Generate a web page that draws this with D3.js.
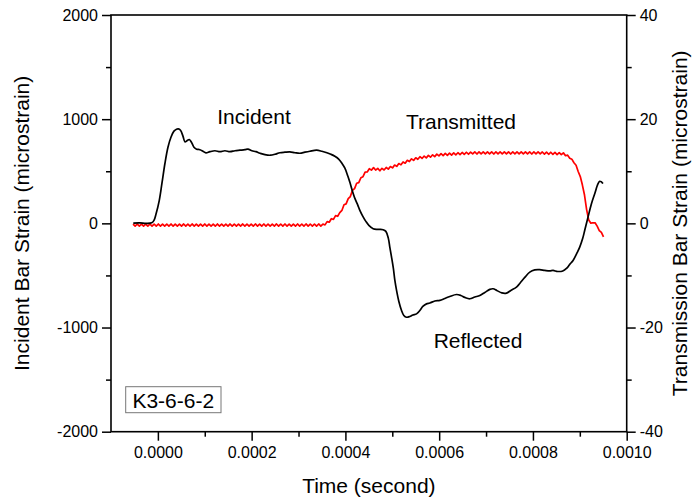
<!DOCTYPE html>
<html>
<head>
<meta charset="utf-8">
<script src="https://cdn.jsdelivr.net/npm/d3@7"></script>
<style>
  body { margin: 0; background: #fff; }
  text { font-family: Arial, "Liberation Sans", sans-serif; fill: #000; }
</style>
</head>
<body>
<svg id="chart" width="692" height="501"></svg>
<script>
// Incident / reflected pulse (incident bar gauge), time in microseconds, strain in microstrain
const incidentTimeUs = [-52.4, -38.2, -25.4, -13.2, -8.3, -4.1, 3.0, 8.7, 15.1, 21.5, 27.9, 34.3, 39.7, 43.5, 48.2, 53.5,
  57.8, 62.0, 66.9, 71.6, 77.0, 82.7, 89.7, 96.1, 102.5, 111.1, 121.7, 132.4, 143.0, 153.7, 164.4, 175.0,
  185.7, 192.1, 200.6, 209.1, 217.7, 228.3, 240.5, 249.6, 260.3, 271.0, 281.6, 292.3, 302.9, 313.6, 324.2,
  338.5, 349.8, 360.5, 369.0, 377.5, 386.1, 392.5, 398.9, 405.3, 409.5, 413.8, 420.2, 426.6, 430.8, 437.2,
  443.6, 450.0, 459.2, 467.1, 473.5, 480.5, 486.3, 491.6, 494.8, 498.4, 502.3, 505.5, 509.1, 514.0, 519.7,
  524.6, 530.4, 537.4, 543.8, 551.7, 558.8, 565.1, 573.0, 580.1, 590.7, 601.4, 612.0, 622.7, 637.0, 646.2,
  654.7, 665.3, 676.0, 686.7, 697.3, 708.0, 715.0, 722.9, 733.6, 743.6, 752.8, 764.9, 771.9, 782.6, 793.3,
  803.9, 814.6, 825.2, 835.9, 842.9, 852.9, 863.6, 871.5, 878.5, 885.6, 893.5, 899.8, 906.2, 910.5, 917.5,
  924.8, 931.8, 938.9, 942.5, 945.7, 949.5];
const incidentStrain = [3, 5, 0, 5, 29, 87, 221, 385, 577, 731, 827, 885, 904, 907, 894, 837,
  782, 793, 805, 779, 731, 712, 707, 692, 676, 688, 697, 688, 697, 688, 697, 702,
  707, 712, 697, 688, 673, 659, 654, 663, 678, 683, 686, 678, 673, 683, 692,
  702, 692, 678, 663, 644, 615, 577, 529, 452, 394, 327, 240, 173, 125, 67,
  19, -19, -51, -58, -58, -61, -77, -144, -231, -324, -433, -548, -644, -750, -836,
  -884, -901, -894, -880, -869, -836, -798, -773, -765, -745, -740, -721, -702, -683, -692,
  -711, -724, -707, -692, -663, -634, -628, -644, -668, -670, -644, -612, -577, -519, -468,
  -447, -445, -452, -457, -452, -462, -457, -433, -394, -356, -288, -228, -144, -67, 60,
  189, 285, 381, 404, 399, 382];

// Transmitted pulse (transmission bar gauge), sampled every 4.5 µs from -53 µs
const transmittedStart = -53e-6;
const transmittedStep = 4.5e-6;
const transmittedStrain = [
  -0.13, -0.53, -0.12, -0.54, -0.13, -0.52, -0.14, -0.53, -0.12, -0.53,
  -0.13, -0.54, -0.12, -0.53, -0.13, -0.52, -0.13, -0.54, -0.12, -0.53,
  -0.14, -0.53, -0.13, -0.52, -0.12, -0.54, -0.13, -0.53, -0.12, -0.52,
  -0.13, -0.53, -0.14, -0.54, -0.12, -0.53, -0.13, -0.52, -0.13, -0.53,
  -0.12, -0.54, -0.13, -0.53, -0.14, -0.52, -0.12, -0.53, -0.13, -0.54,
  -0.13, -0.52, -0.12, -0.53, -0.13, -0.54, -0.14, -0.53, -0.12, -0.52,
  -0.13, -0.53, -0.12, -0.54, -0.13, -0.53, -0.14, -0.52, -0.12, -0.53,
  -0.13, -0.54, -0.12, -0.53, -0.13, -0.52, -0.14, -0.53, -0.12, -0.54,
  -0.13, -0.53, -0.12, -0.52, -0.13, -0.54, -0.13, -0.53, -0.12, -0.52,
  -0.13, -0.30, 0.33, 0.21, 0.89, 0.77, 1.47, 1.36, 2.06, 2.48,
  3.57, 3.74, 4.74, 5.14, 6.33, 6.67, 7.70, 7.81, 8.76, 8.96,
  9.85, 9.86, 10.48, 10.22, 10.70, 10.23, 10.56, 10.09, 10.57, 10.25,
  10.73, 10.41, 10.90, 10.65, 11.19, 10.94, 11.48, 11.23, 11.79, 11.55,
  12.11, 11.87, 12.39, 12.09, 12.59, 12.30, 12.80, 12.46, 12.92, 12.58,
  13.04, 12.70, 13.16, 12.82, 13.28, 12.94, 13.38, 13.00, 13.43, 13.05,
  13.47, 13.09, 13.52, 13.14, 13.56, 13.18, 13.61, 13.23, 13.65, 13.27,
  13.69, 13.32, 13.72, 13.31, 13.73, 13.32, 13.71, 13.33, 13.72, 13.32,
  13.73, 13.31, 13.72, 13.32, 13.71, 13.33, 13.72, 13.32, 13.73, 13.31,
  13.72, 13.32, 13.71, 13.32, 13.72, 13.33, 13.73, 13.32, 13.72, 13.31,
  13.72, 13.32, 13.71, 13.32, 13.70, 13.29, 13.68, 13.26, 13.65, 13.23,
  13.62, 13.21, 13.59, 13.18, 13.53, 12.98, 13.09, 12.51, 12.32, 11.63,
  11.16, 9.95, 8.98, 7.35, 5.44, 2.64, 0.63, 0.03, 0.12, 0.10,
  -0.53, -1.39, -1.75, -2.60];

// Axis ticks
const timeTicks = [0, 0.0002, 0.0004, 0.0006, 0.0008, 0.0010];
const timeMinorTicks = [0.0001, 0.0003, 0.0005, 0.0007, 0.0009];
const incidentTicks = [-2000, -1000, 0, 1000, 2000];
const incidentMinorTicks = [-1500, -500, 500, 1500];
const transmittedTicks = [-40, -20, 0, 20, 40];
const transmittedMinorTicks = [-30, -10, 10, 30];

const plot = { left: 111, right: 626.7, top: 15, bottom: 431.7 };

const svg = d3.select("#chart");

const x = d3.scaleLinear().domain([-0.0001, 0.001]).range([plot.left, plot.right]);
const yL = d3.scaleLinear().domain([-2000, 2000]).range([plot.bottom, plot.top]);
const yR = d3.scaleLinear().domain([-40, 40]).range([plot.bottom, plot.top]);

const tickFont = "16px";

function styleAxis(g) {
  g.select(".domain").remove();
  g.selectAll(".tick line").attr("stroke", "#000").attr("stroke-width", 1.5);
  g.selectAll(".tick text").style("font-size", tickFont).style("font-family", "Arial, 'Liberation Sans', sans-serif");
}

// Bottom axis
svg.append("g")
  .attr("transform", `translate(0,${plot.bottom})`)
  .call(d3.axisBottom(x).tickValues(timeTicks).tickFormat(d3.format(".4f")).tickSize(9).tickPadding(6))
  .call(styleAxis);
svg.append("g")
  .attr("transform", `translate(0,${plot.bottom})`)
  .call(d3.axisBottom(x).tickValues(timeMinorTicks).tickFormat("").tickSize(5))
  .call(styleAxis);

// Left axis
svg.append("g")
  .attr("transform", `translate(${plot.left},0)`)
  .call(d3.axisLeft(yL).tickValues(incidentTicks).tickFormat(d => String(d)).tickSize(9).tickPadding(4))
  .call(styleAxis);
svg.append("g")
  .attr("transform", `translate(${plot.left},0)`)
  .call(d3.axisLeft(yL).tickValues(incidentMinorTicks).tickFormat("").tickSize(5))
  .call(styleAxis);

// Right axis
svg.append("g")
  .attr("transform", `translate(${plot.right},0)`)
  .call(d3.axisRight(yR).tickValues(transmittedTicks).tickFormat(d => String(d)).tickSize(9).tickPadding(4))
  .call(styleAxis);
svg.append("g")
  .attr("transform", `translate(${plot.right},0)`)
  .call(d3.axisRight(yR).tickValues(transmittedMinorTicks).tickFormat("").tickSize(5))
  .call(styleAxis);

// Plot frame
svg.append("rect")
  .attr("x", plot.left).attr("y", plot.top)
  .attr("width", plot.right - plot.left).attr("height", plot.bottom - plot.top)
  .attr("fill", "none").attr("stroke", "#000").attr("stroke-width", 1.6);

// Curves
const incidentData = incidentTimeUs.map((t, i) => ({ t: t / 1e6, v: incidentStrain[i] }));
const transmittedData = transmittedStrain.map((v, i) => ({ t: transmittedStart + i * transmittedStep, v }));

svg.append("path")
  .datum(transmittedData)
  .attr("fill", "none").attr("stroke", "#ff0000").attr("stroke-width", 1.7)
  .attr("stroke-linejoin", "round")
  .attr("d", d3.line().x(d => x(d.t)).y(d => yR(d.v)));

svg.append("path")
  .datum(incidentData)
  .attr("fill", "none").attr("stroke", "#000").attr("stroke-width", 1.7)
  .attr("stroke-linejoin", "round")
  .attr("d", d3.line().x(d => x(d.t)).y(d => yL(d.v)).curve(d3.curveCatmullRom.alpha(0.5)));

// Pulse annotations
const annoFont = "21px";
[["Incident", 254, 124], ["Transmitted", 461, 129], ["Reflected", 478, 348]].forEach(([s, cx, by]) => {
  svg.append("text").attr("x", cx).attr("y", by).attr("text-anchor", "middle")
    .style("font-size", annoFont).text(s);
});

// Specimen label box
svg.append("rect")
  .attr("x", 125.7).attr("y", 386.7).attr("width", 95.3).attr("height", 26)
  .attr("fill", "#fff").attr("stroke", "#777").attr("stroke-width", 1);
svg.append("text").attr("x", 173.3).attr("y", 407.5).attr("text-anchor", "middle")
  .style("font-size", "21px").text("K3-6-6-2");

// Axis titles
svg.append("text")
  .attr("x", (plot.left + plot.right) / 2).attr("y", 493)
  .attr("text-anchor", "middle").style("font-size", "21px")
  .text("Time (second)");

svg.append("text")
  .attr("transform", `translate(29,${(plot.top + plot.bottom) / 2}) rotate(-90)`)
  .attr("text-anchor", "middle").style("font-size", "21px")
  .text("Incident Bar Strain (microstrain)");

svg.append("text")
  .attr("transform", `translate(687,${(plot.top + plot.bottom) / 2}) rotate(-90)`)
  .attr("text-anchor", "middle").style("font-size", "21px")
  .text("Transmission Bar Strain (microstrain)");
</script>
</body>
</html>
